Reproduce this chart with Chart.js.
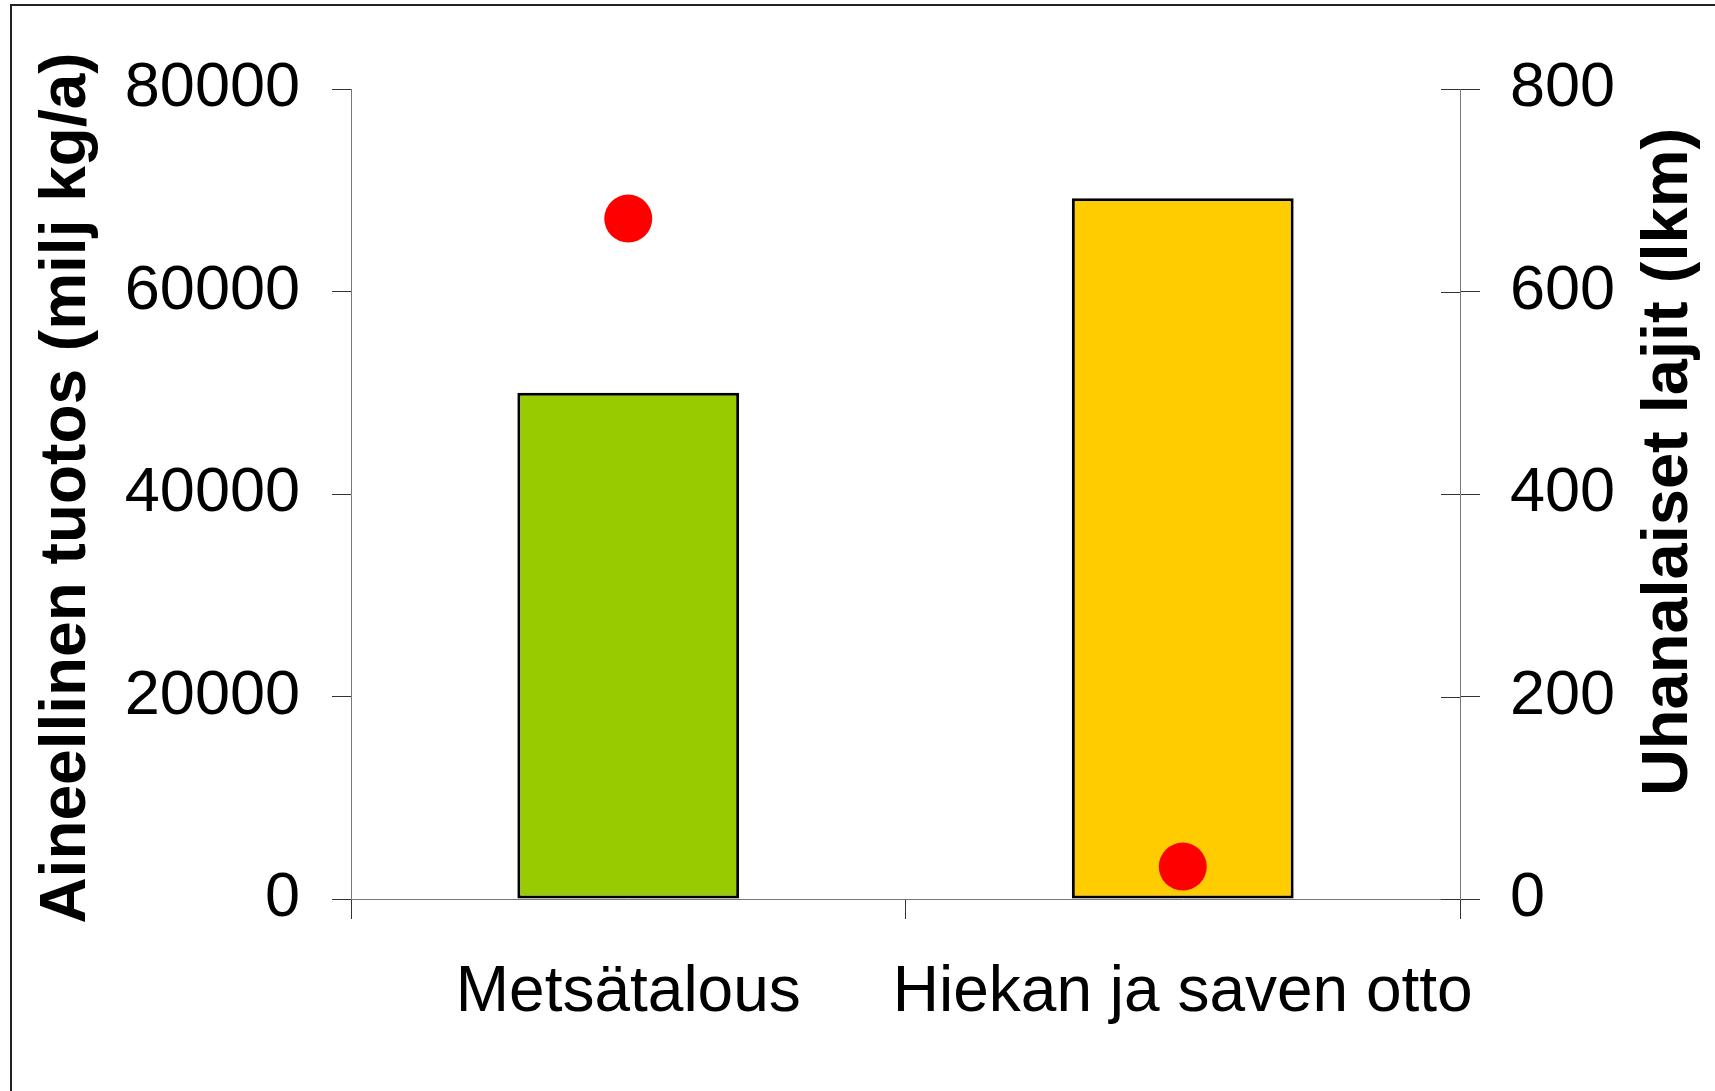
<!DOCTYPE html>
<html>
<head>
<meta charset="utf-8">
<script src="https://cdn.jsdelivr.net/npm/chart.js@4.4.1/dist/chart.umd.min.js"></script>
<style>
  body { margin: 0; background: #fff; }
  canvas { display: block; }
</style>
</head>
<body>
<canvas id="chartTuotos" width="1715" height="1091"></canvas>
<script>
//toimialat
const categories = ['Metsätalous', 'Hiekan ja saven otto'];

//aineellinen tuotos (milj kg/a) - pylväät
const tuotos = [50000, 69200];
const barColors = ['#99CC00', '#FFCC00'];

//uhanalaiset lajit (lkm) - pisteet
const uhanalaiset = [672, 32];

//akselit
const leftMax = 80000;
const leftStep = 20000;
const rightMax = 800;
const rightStep = 200;

const leftTitle = 'Aineellinen tuotos (milj kg/a)';
const rightTitle = 'Uhanalaiset lajit (lkm)';

const fontName = '"Liberation Sans", Arial, sans-serif';

//kehys + akselien otsikot + oikean akselin sisäpuoliset tikit
const extras = {
  id: 'extras',
  beforeDraw(chart) {
    const c = chart.ctx;
    c.save();
    c.fillStyle = '#fff';
    c.fillRect(0, 0, chart.width, chart.height);
    c.strokeStyle = '#222';
    c.lineWidth = 2;
    c.beginPath();
    c.moveTo(11, chart.height);
    c.lineTo(11, 5);
    c.lineTo(chart.width, 5);
    c.stroke();
    c.restore();
  },
  afterDraw(chart) {
    const c = chart.ctx;
    const area = chart.chartArea;
    const y1 = chart.scales.y1;

    c.save();
    c.strokeStyle = '#333';
    c.lineWidth = 1;
    y1.ticks.forEach(t => {
      const py = Math.round(y1.getPixelForValue(t.value)) + 0.5;
      c.beginPath();
      c.moveTo(area.right - 19, py);
      c.lineTo(area.right, py);
      c.stroke();
    });

    c.fillStyle = '#000';
    c.textAlign = 'center';
    c.textBaseline = 'alphabetic';

    c.font = 'bold 64px ' + fontName;
    c.translate(85, 488);
    c.rotate(-Math.PI / 2);
    c.fillText(leftTitle, 0, 0);
    c.restore();

    c.save();
    c.fillStyle = '#000';
    c.textAlign = 'center';
    c.textBaseline = 'alphabetic';
    c.font = 'bold 65px ' + fontName;
    c.translate(1687, 462);
    c.rotate(-Math.PI / 2);
    c.fillText(rightTitle, 0, 0);
    c.restore();
  }
};

const ctx = document.getElementById('chartTuotos');
const chartTuotos = new Chart(ctx, {
  type: 'bar',
  data: {
    labels: categories,
    datasets: [{
      type: 'line',
      label: 'Uhanalaiset lajit',
      data: uhanalaiset,
      yAxisID: 'y1',
      showLine: false,
      pointRadius: 24,
      pointBackgroundColor: '#FF0000',
      pointBorderWidth: 0,
      order: 0
    },
    {
      label: 'Aineellinen tuotos',
      data: tuotos,
      yAxisID: 'y',
      backgroundColor: barColors,
      borderColor: '#000',
      borderWidth: 3,
      borderSkipped: false,
      barPercentage: 0.4,
      categoryPercentage: 1.0,
      order: 1
    }]
  },
  options: {
    responsive: false,
    animation: false,
    events: [],
    layout: {
      padding: { top: 89, left: 0, right: 0, bottom: 0 }
    },
    plugins: {
      legend: { display: false },
      tooltip: { enabled: false }
    },
    scales: {
      x: {
        afterFit: (scale) => { scale.height = 192; },
        grid: {
          offset: true,
          drawOnChartArea: false,
          drawTicks: true,
          tickLength: 20,
          color: '#333'
        },
        border: { display: true, color: '#777', width: 1 },
        ticks: {
          color: '#000',
          padding: 36,
          autoSkip: false,
          maxRotation: 0,
          minRotation: 0,
          font: { family: fontName, size: 64 }
        }
      },
      y: {
        position: 'left',
        min: 0,
        max: leftMax,
        afterFit: (scale) => { scale.width = 351; },
        grid: {
          drawOnChartArea: false,
          drawTicks: true,
          tickLength: 19,
          color: '#333'
        },
        border: { display: true, color: '#777', width: 1 },
        ticks: {
          stepSize: leftStep,
          color: '#000',
          padding: 32,
          callback: (v) => String(v),
          font: { family: fontName, size: 63 }
        }
      },
      y1: {
        position: 'right',
        min: 0,
        max: rightMax,
        afterFit: (scale) => { scale.width = 255; },
        grid: {
          drawOnChartArea: false,
          drawTicks: true,
          tickLength: 20,
          color: '#333'
        },
        border: { display: true, color: '#777', width: 1 },
        ticks: {
          stepSize: rightStep,
          color: '#000',
          padding: 30,
          callback: (v) => String(v),
          font: { family: fontName, size: 63 }
        }
      }
    }
  },
  plugins: [extras]
});
</script>
</body>
</html>
